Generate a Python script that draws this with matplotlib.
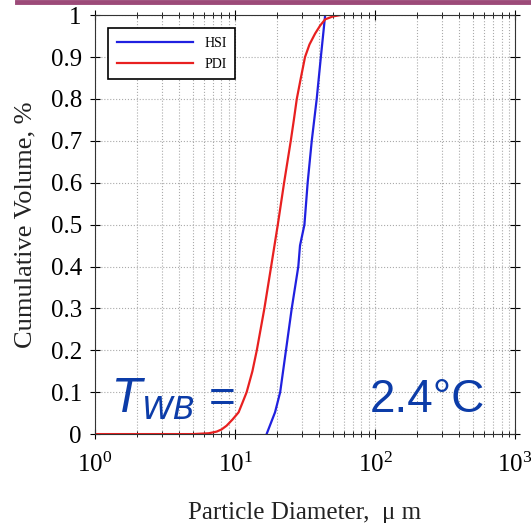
import numpy as np
import matplotlib
matplotlib.use('Agg')
import matplotlib.pyplot as plt
from matplotlib.lines import Line2D

plt.rcParams['font.family'] = ['Liberation Serif', 'DejaVu Serif']
plt.rcParams['mathtext.fontset'] = 'stix'

# PDI (red) cumulative volume vs diameter (um)
pdi_d = [1.0, 5.0, 6.5, 7.4, 8.0, 8.7, 9.6, 10.6, 11.3, 12.1, 13.3, 14.3, 16.2, 18.1, 20.2, 22.4,
         25.0, 26.3, 27.6, 29.5, 31.6, 34.0, 37.3, 40.5, 44.0, 50.0, 56.0]
pdi_v = [0.0, 0.0, 0.002, 0.006, 0.011, 0.02, 0.035, 0.052, 0.075, 0.1, 0.15, 0.2, 0.3, 0.4, 0.5, 0.6,
         0.7, 0.75, 0.8, 0.85, 0.9, 0.93, 0.956, 0.975, 0.99, 0.997, 1.0]
# HSI (blue)
hsi_d = [16.8, 19.3, 21.0, 23.1, 25.4, 28.3, 29.1, 31.3, 33.0, 35.3, 38.3, 41.0, 44.0]
hsi_v = [0.0, 0.052, 0.1, 0.2, 0.3, 0.4, 0.45, 0.5, 0.6, 0.7, 0.8, 0.9, 1.0]

fig = plt.figure(figsize=(5.31, 5.23), dpi=100)
ax = fig.add_axes([0.179, 0.170, 0.791, 0.801])

ax.plot(hsi_d, hsi_v, color='#2020e0', lw=1.6, label='HSI')
ax.plot(pdi_d, pdi_v, color='#e82020', lw=1.6, label='PDI')

ax.set_xscale('log')
ax.set_xlim(1, 1000)
ax.set_ylim(0, 1)
ax.set_yticks(np.arange(0, 1.01, 0.1))
ax.set_yticklabels(['0', '0.1', '0.2', '0.3', '0.4', '0.5', '0.6', '0.7', '0.8', '0.9', '1'])
ax.grid(True, which='major', ls=':', color='#aaaaaa', lw=0.8)
ax.grid(True, which='minor', axis='x', ls=':', color='#aaaaaa', lw=0.8)
ax.tick_params(which='both', direction='inout', top=True, right=True, labelsize=18, pad=6)
ax.tick_params(axis='x', pad=10)
ax.tick_params(which='major', length=7)
ax.tick_params(which='minor', length=4)
for s in ax.spines.values():
    s.set_color('#333333')

ax.set_xlabel('Particle Diameter,  \u03bc m', fontsize=18, labelpad=18, color='#222222')
ax.set_ylabel('Cumulative Volume, %', fontsize=19, labelpad=10, color='#222222')

leg = ax.legend(loc='upper left', bbox_to_anchor=(0.015, 0.985), fontsize=10,
                fancybox=False, edgecolor='black', framealpha=1, handlelength=5.5,
                borderpad=0.6, labelspacing=0.6)
leg.get_frame().set_linewidth(1.2)

txt_color = '#0c3ca8'
fig.text(0.213, 0.212, '$T_{WB}$ =', color=txt_color, fontsize=33, family='Liberation Sans',
         math_fontfamily='dejavusans')
fig.text(0.697, 0.212, '2.4\u00b0C', color=txt_color, fontsize=33, family='Liberation Sans')

fig.add_artist(Line2D([0.032, 1.0], [0.997, 0.997], color='#9c4a78', lw=3.5))

fig.savefig('out.png', dpi=100)
